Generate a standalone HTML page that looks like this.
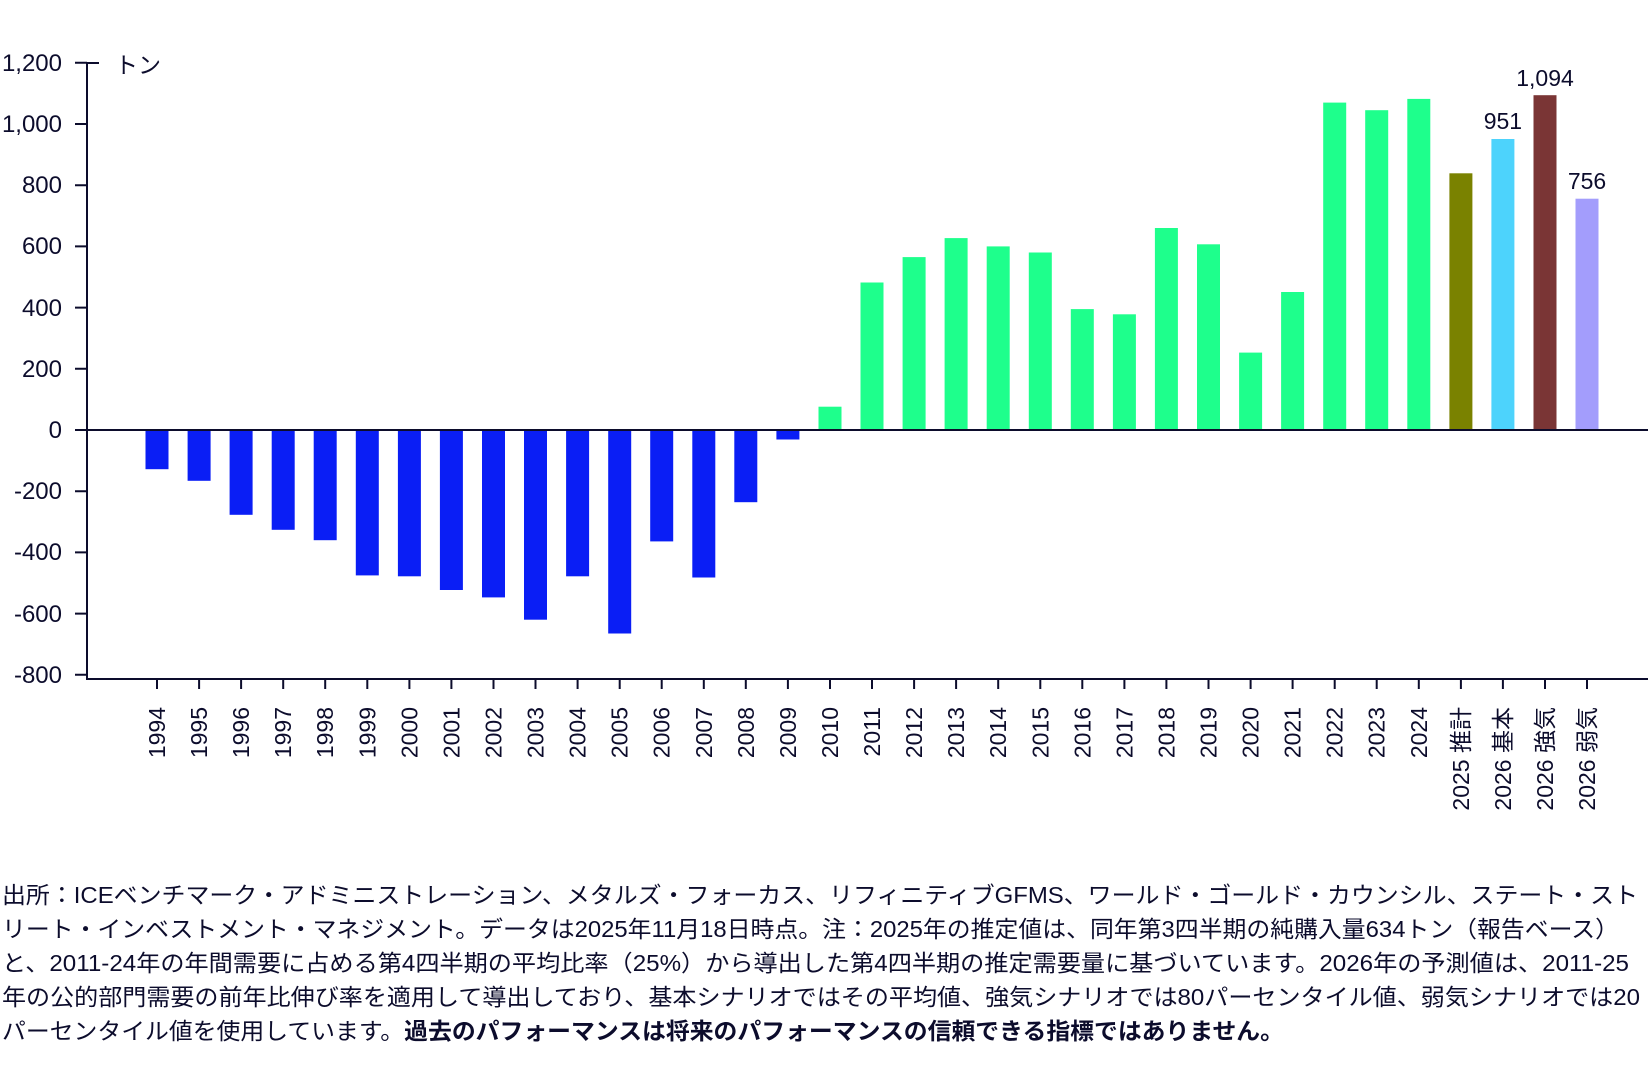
<!DOCTYPE html>
<html><head><meta charset="utf-8"><style>
body{margin:0;background:#fff}
svg{display:block}
text{font-family:"Liberation Sans","Noto Sans CJK JP",sans-serif;fill:#0c0c2c}
</style></head><body>
<svg width="1648" height="1080" viewBox="0 0 1648 1080" xmlns="http://www.w3.org/2000/svg">
<g fill="#0a1ef5">
<rect x="145.5" y="430" width="23" height="39.2"/>
<rect x="187.6" y="430" width="23" height="50.8"/>
<rect x="229.6" y="430" width="23" height="84.8"/>
<rect x="271.7" y="430" width="23" height="99.8"/>
<rect x="313.7" y="430" width="23" height="110.2"/>
<rect x="355.8" y="430" width="23" height="145.4"/>
<rect x="397.9" y="430" width="23" height="146.3"/>
<rect x="439.9" y="430" width="23" height="160"/>
<rect x="482" y="430" width="23" height="167.4"/>
<rect x="524" y="430" width="23" height="189.7"/>
<rect x="566.1" y="430" width="23" height="146.3"/>
<rect x="608.2" y="430" width="23" height="203.5"/>
<rect x="650.2" y="430" width="23" height="111.4"/>
<rect x="692.3" y="430" width="23" height="147.5"/>
<rect x="734.3" y="430" width="23" height="72.2"/>
<rect x="776.4" y="430" width="23" height="9.5"/>
</g>
<g fill="#1eff8c">
<rect x="818.5" y="406.7" width="23" height="23.3"/>
<rect x="860.5" y="282.5" width="23" height="147.5"/>
<rect x="902.6" y="257.1" width="23" height="172.9"/>
<rect x="944.6" y="238.1" width="23" height="191.9"/>
<rect x="986.7" y="246.4" width="23" height="183.6"/>
<rect x="1028.8" y="252.5" width="23" height="177.5"/>
<rect x="1070.8" y="309.1" width="23" height="120.9"/>
<rect x="1112.9" y="314.3" width="23" height="115.7"/>
<rect x="1154.9" y="228" width="23" height="202"/>
<rect x="1197" y="244.3" width="23" height="185.7"/>
<rect x="1239.1" y="352.6" width="23" height="77.4"/>
<rect x="1281.1" y="292" width="23" height="138"/>
<rect x="1323.2" y="102.6" width="23" height="327.4"/>
<rect x="1365.2" y="110.2" width="23" height="319.8"/>
<rect x="1407.3" y="98.9" width="23" height="331.1"/>
</g>
<rect x="1449.4" y="173.3" width="23" height="256.7" fill="#7a8200"/>
<rect x="1491.4" y="139" width="23" height="291" fill="#4dd3fc"/>
<rect x="1533.5" y="95.2" width="23" height="334.8" fill="#7a3535"/>
<rect x="1575.5" y="198.7" width="23" height="231.3" fill="#a39dfc"/>

<g font-size="23" text-anchor="middle">
<text x="1502.9" y="129">951</text>
<text x="1545" y="86">1,094</text>
<text x="1587" y="189">756</text>
</g>

<g stroke="#0c0c2c" stroke-width="2" fill="none">
<path d="M87 63V680M87 63H99M87 430H1648M87 679H1648"/>
<path d="M75 62.8H87M75 124H87M75 185.2H87M75 246.4H87M75 307.6H87M75 368.8H87M75 430H87M75 491.2H87M75 552.4H87M75 613.6H87M75 674.8H87"/>
<path d="M157 679v10M199.1 679v10M241.1 679v10M283.2 679v10M325.2 679v10M367.3 679v10M409.4 679v10M451.4 679v10M493.5 679v10M535.5 679v10M577.6 679v10M619.7 679v10M661.7 679v10M703.8 679v10M745.8 679v10M787.9 679v10M830 679v10M872 679v10M914.1 679v10M956.1 679v10M998.2 679v10M1040.3 679v10M1082.3 679v10M1124.4 679v10M1166.4 679v10M1208.5 679v10M1250.6 679v10M1292.6 679v10M1334.7 679v10M1376.7 679v10M1418.8 679v10M1460.9 679v10M1502.9 679v10M1545 679v10M1587 679v10"/>
</g>

<g font-size="24" text-anchor="end">
<text x="62" y="71">1,200</text>
<text x="62" y="132">1,000</text>
<text x="62" y="193">800</text>
<text x="62" y="254">600</text>
<text x="62" y="316">400</text>
<text x="62" y="377">200</text>
<text x="62" y="438">0</text>
<text x="62" y="499">-200</text>
<text x="62" y="560">-400</text>
<text x="62" y="622">-600</text>
<text x="62" y="683">-800</text>
</g>
<text x="115" y="73" font-size="23">トン</text>

<g font-size="23" text-anchor="end">
<text transform="translate(165,707) rotate(-90)">1994</text>
<text transform="translate(207.1,707) rotate(-90)">1995</text>
<text transform="translate(249.1,707) rotate(-90)">1996</text>
<text transform="translate(291.2,707) rotate(-90)">1997</text>
<text transform="translate(333.2,707) rotate(-90)">1998</text>
<text transform="translate(375.3,707) rotate(-90)">1999</text>
<text transform="translate(417.4,707) rotate(-90)">2000</text>
<text transform="translate(459.4,707) rotate(-90)">2001</text>
<text transform="translate(501.5,707) rotate(-90)">2002</text>
<text transform="translate(543.5,707) rotate(-90)">2003</text>
<text transform="translate(585.6,707) rotate(-90)">2004</text>
<text transform="translate(627.7,707) rotate(-90)">2005</text>
<text transform="translate(669.7,707) rotate(-90)">2006</text>
<text transform="translate(711.8,707) rotate(-90)">2007</text>
<text transform="translate(753.8,707) rotate(-90)">2008</text>
<text transform="translate(795.9,707) rotate(-90)">2009</text>
<text transform="translate(838,707) rotate(-90)">2010</text>
<text transform="translate(880,707) rotate(-90)">2011</text>
<text transform="translate(922.1,707) rotate(-90)">2012</text>
<text transform="translate(964.1,707) rotate(-90)">2013</text>
<text transform="translate(1006.2,707) rotate(-90)">2014</text>
<text transform="translate(1048.3,707) rotate(-90)">2015</text>
<text transform="translate(1090.3,707) rotate(-90)">2016</text>
<text transform="translate(1132.4,707) rotate(-90)">2017</text>
<text transform="translate(1174.4,707) rotate(-90)">2018</text>
<text transform="translate(1216.5,707) rotate(-90)">2019</text>
<text transform="translate(1258.6,707) rotate(-90)">2020</text>
<text transform="translate(1300.6,707) rotate(-90)">2021</text>
<text transform="translate(1342.7,707) rotate(-90)">2022</text>
<text transform="translate(1384.7,707) rotate(-90)">2023</text>
<text transform="translate(1426.8,707) rotate(-90)">2024</text>
<text transform="translate(1468.9,707) rotate(-90)">2025 推計</text>
<text transform="translate(1510.9,707) rotate(-90)">2026 基本</text>
<text transform="translate(1553,707) rotate(-90)">2026 強気</text>
<text transform="translate(1595,707) rotate(-90)">2026 弱気</text>
</g>

<text x="2" y="903" font-size="23" textLength="1636" lengthAdjust="spacingAndGlyphs">出所：ICEベンチマーク・アドミニストレーション、メタルズ・フォーカス、リフィニティブGFMS、ワールド・ゴールド・カウンシル、ステート・スト</text>
<text x="2" y="937" font-size="23" textLength="1617" lengthAdjust="spacingAndGlyphs">リート・インベストメント・マネジメント。データは2025年11月18日時点。注：2025年の推定値は、同年第3四半期の純購入量634トン（報告ベース）</text>
<text x="2" y="971" font-size="23" textLength="1627" lengthAdjust="spacingAndGlyphs">と、2011-24年の年間需要に占める第4四半期の平均比率（25%）から導出した第4四半期の推定需要量に基づいています。2026年の予測値は、2011-25</text>
<text x="2" y="1005" font-size="23" textLength="1638" lengthAdjust="spacingAndGlyphs">年の公的部門需要の前年比伸び率を適用して導出しており、基本シナリオではその平均値、強気シナリオでは80パーセンタイル値、弱気シナリオでは20</text>
<text x="2" y="1039" font-size="23" textLength="1282" lengthAdjust="spacingAndGlyphs">パーセンタイル値を使用しています。<tspan font-weight="bold">過去のパフォーマンスは将来のパフォーマンスの信頼できる指標ではありません。</tspan></text>
</svg>
</body></html>
